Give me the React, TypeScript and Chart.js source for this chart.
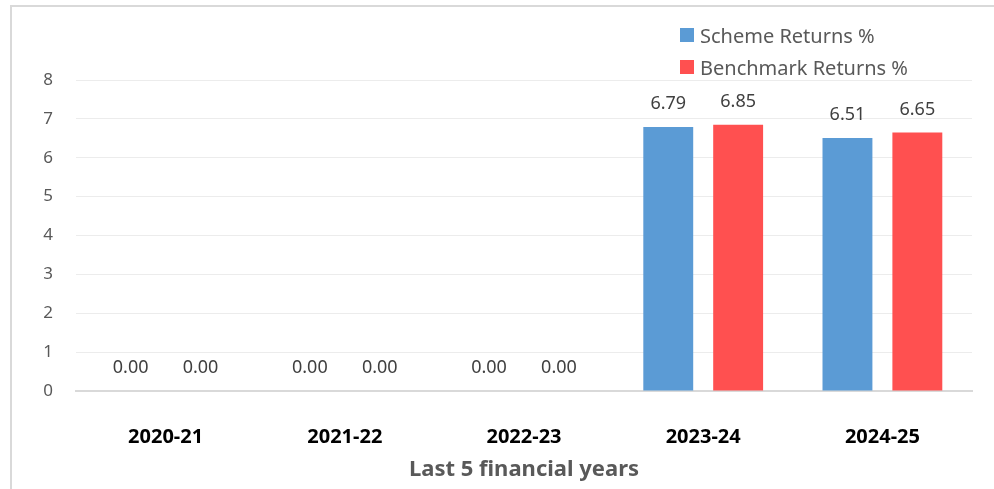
import React, { useEffect, useRef } from "react";
import { Chart, registerables } from "chart.js";

Chart.register(...registerables);

const categories = ["2020-21", "2021-22", "2022-23", "2023-24", "2024-25"];
const schemeReturns = [0, 0, 0, 6.79, 6.51];
const benchmarkReturns = [0, 0, 0, 6.85, 6.65];
const seriesNames = ["Scheme Returns %", "Benchmark Returns %"];
const seriesColors = ["#5B9BD5", "#FF5050"];
const yTicks = [0, 1, 2, 3, 4, 5, 6, 7, 8];
const axisTitle = "Last 5 financial years";

const FONT = "'Noto Sans', sans-serif";

const valueLabels = {
  id: "valueLabels",
  afterDatasetsDraw(chart: any) {
    const ctx = chart.ctx;
    ctx.save();
    ctx.font = `18px ${FONT}`;
    ctx.fillStyle = "#404040";
    ctx.textAlign = "center";
    ctx.textBaseline = "middle";
    chart.data.datasets.forEach((ds: any, i: number) => {
      const meta = chart.getDatasetMeta(i);
      meta.data.forEach((bar: any, j: number) => {
        const v = ds.data[j] as number;
        ctx.fillText(v.toFixed(2), bar.x, bar.y - 23);
      });
    });
    ctx.restore();
  },
};

export default function App() {
  const canvasRef = useRef<HTMLCanvasElement | null>(null);

  useEffect(() => {
    const canvas = canvasRef.current;
    if (!canvas) return;
    const chart = new Chart(canvas, {
      type: "bar",
      data: {
        labels: categories,
        datasets: [
          {
            label: seriesNames[0],
            data: schemeReturns,
            backgroundColor: seriesColors[0],
            categoryPercentage: 0.78,
            barPercentage: 0.714,
          },
          {
            label: seriesNames[1],
            data: benchmarkReturns,
            backgroundColor: seriesColors[1],
            categoryPercentage: 0.78,
            barPercentage: 0.714,
          },
        ],
      },
      options: {
        animation: false,
        responsive: false,
        maintainAspectRatio: false,
        layout: { padding: { left: 10, right: 22, top: 80, bottom: 0 } },
        plugins: {
          legend: { display: false },
          tooltip: { enabled: false },
        },
        scales: {
          x: {
            grid: { display: false, drawTicks: false },
            border: { display: true, color: "#d9d9d9", width: 2 },
            ticks: {
              padding: 34,
              color: "#000000",
              font: { family: FONT, size: 20, weight: "bold" },
              maxRotation: 0,
            },
            title: {
              display: true,
              text: axisTitle,
              color: "#595959",
              font: { family: FONT, size: 22, weight: "bold" },
              padding: { top: 0, bottom: 6 },
            },
            afterFit(scale: any) {
              scale.height = 98;
            },
          },
          y: {
            min: 0,
            max: 8,
            grid: { color: "#ececec", lineWidth: 1, drawTicks: false },
            border: { display: false },
            ticks: {
              stepSize: 1,
              padding: 23,
              color: "#595959",
              font: { family: FONT, size: 17 },
              callback: (v: any) => (yTicks.includes(Number(v)) ? String(v) : ""),
            },
            afterFit(scale: any) {
              scale.width = 66;
            },
          },
        },
      },
      plugins: [valueLabels],
    });
    return () => chart.destroy();
  }, []);

  return (
    <div
      style={{
        position: "fixed",
        left: 0,
        top: 0,
        width: 994,
        height: 489,
        overflow: "hidden",
        background: "#ffffff",
      }}
    >
      <div
        style={{
          position: "absolute",
          left: 10,
          top: 5,
          width: 1100,
          height: 600,
          border: "2px solid #d9d9d9",
        }}
      />
      <canvas
        ref={canvasRef}
        width={994}
        height={489}
        style={{ position: "absolute", left: 0, top: 0, width: 994, height: 489 }}
      />
      {seriesNames.map((name, i) => (
        <div
          key={name}
          style={{
            position: "absolute",
            left: 680,
            top: 35 + i * 32 - 14,
            height: 28,
            display: "flex",
            alignItems: "center",
            fontFamily: FONT,
            fontSize: 20,
            color: "#595959",
            whiteSpace: "nowrap",
          }}
        >
          <span
            style={{
              display: "inline-block",
              width: 14,
              height: 14,
              background: seriesColors[i],
              marginRight: 6,
            }}
          />
          <span>{name}</span>
        </div>
      ))}
    </div>
  );
}
